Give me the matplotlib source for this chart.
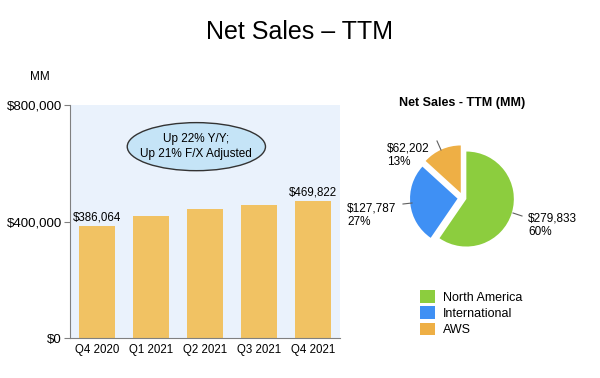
import matplotlib
matplotlib.use('Agg')

import numpy as np
import matplotlib.pyplot as plt
from matplotlib.patches import Ellipse, Patch
from matplotlib.lines import Line2D

# Data
quarters = ['Q4 2020', 'Q1 2021', 'Q2 2021', 'Q3 2021', 'Q4 2021']
net_sales = [386064, 419130, 443298, 457965, 469822]
segments = ['North America', 'International', 'AWS']
segment_sales = [279833, 127787, 62202]
segment_pct = ['60%', '27%', '13%']
segment_colors = ['#8ccd3e', '#3f90f4', '#eeaf45']

plt.rcParams['font.family'] = ['Liberation Sans', 'DejaVu Sans']

W, H = 600, 378
fig = plt.figure(figsize=(6, 3.78), dpi=100)
fig.patch.set_facecolor('white')


def fx(px):
    return px / W


def fy(py):
    return 1 - py / H


fig.text(0.5, fy(32), 'Net Sales \u2013 TTM', ha='center', va='center', fontsize=18)
fig.text(fx(40), fy(77), 'MM', ha='center', va='center', fontsize=8.5)

# Bar chart
ax = fig.add_axes([fx(70), fy(338), 270 / W, 233 / H])
ax.set_facecolor('#eaf2fc')
x = np.arange(len(quarters))
ax.bar(x, net_sales, width=0.66, color='#f1c263', zorder=2)
ax.set_xlim(-0.5, 4.5)
ax.set_ylim(0, 800000)
ax.set_yticks([0, 400000, 800000])
ax.set_yticklabels(['$0', '$400,000', '$800,000'], fontsize=9.5)
ax.set_xticks(x)
ax.set_xticklabels(quarters, fontsize=8.3)
ax.tick_params(axis='y', length=4, color='#808080', pad=2)
ax.tick_params(axis='x', length=0, pad=4)
for side in ['top', 'right']:
    ax.spines[side].set_visible(False)
ax.spines['left'].set_color('#808080')
ax.spines['bottom'].set_color('#808080')

for i in [0, 4]:
    ax.text(x[i], net_sales[i] + 8000, '${:,}'.format(net_sales[i]),
            ha='center', va='bottom', fontsize=8.3)

ell = Ellipse((1.84, 657000), 2.56, 165000, facecolor='#c5e4f7',
              edgecolor='#333333', linewidth=1, zorder=3)
ax.add_patch(ell)
ax.text(1.84, 657000, 'Up 22% Y/Y;\nUp 21% F/X Adjusted', ha='center',
        va='center', fontsize=8.5, linespacing=1.3, zorder=4)

# Pie chart
pax = fig.add_axes([fx(463 - 65), fy(198 + 65), 130 / W, 130 / H])
wedges, _ = pax.pie(segment_sales, colors=segment_colors, startangle=90,
                    counterclock=False, explode=[0.07, 0.11, 0.11],
                    radius=0.95)
pax.set_aspect('equal')
pax.set_xlim(-1.3, 1.3)
pax.set_ylim(-1.3, 1.3)

# labels (pixel positions) and leader lines
label_xy = [(528, 225), (347, 215), (387, 155)]
leaders = [((513, 213), (522, 216)), ((403, 204), (412, 203)), ((437, 141), (441, 150))]
for i in range(len(segments)):
    lx, ly = label_xy[i]
    fig.text(fx(lx), fy(ly), '${:,}\n{}'.format(segment_sales[i], segment_pct[i]),
             ha='left', va='center', fontsize=8.5, linespacing=1.2)
    (x0, y0), (x1, y1) = leaders[i]
    fig.add_artist(Line2D([fx(x0), fx(x1)], [fy(y0), fy(y1)], color='#606060',
                          linewidth=0.8))

fig.text(fx(462), fy(103), 'Net Sales - TTM (MM)', ha='center',
         va='center', fontsize=9, fontweight='bold')

handles = [Patch(facecolor=c, edgecolor='none') for c in segment_colors]
fig.legend(handles, segments, loc='upper left', bbox_to_anchor=(fx(414), fy(284)),
           frameon=False, fontsize=9, handlelength=1.2, handleheight=1.2,
           handletextpad=0.6, labelspacing=0.2, borderpad=0)

plt.savefig('out.png', dpi=100)
